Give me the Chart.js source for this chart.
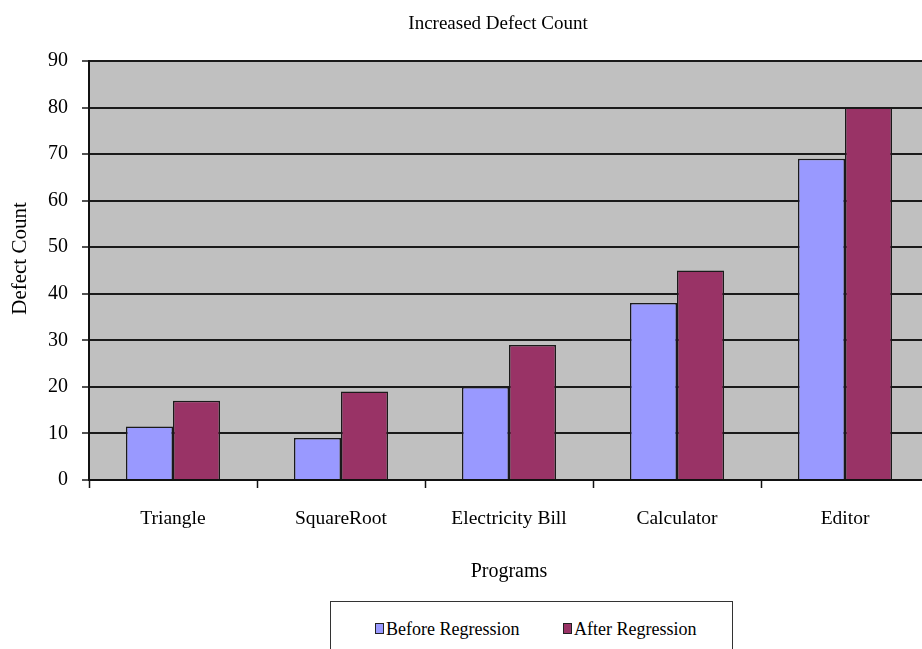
<!DOCTYPE html>
<html>
<head>
<meta charset="utf-8">
<script src="https://cdn.jsdelivr.net/npm/chart.js@4/dist/chart.umd.min.js"></script>
<style>
  html, body { margin: 0; padding: 0; background: #fff; overflow: hidden; }
  #wrap { position: relative; width: 929px; height: 649px; }
  #legend {
    position: absolute; left: 330px; top: 601px; width: 403px; height: 60px;
    border: 1.5px solid #333; box-sizing: border-box; background: #fff;
    font-family: "Liberation Serif", "Times New Roman", serif; font-size: 18px; color: #000;
  }
  .item { position: absolute; top: 17px; white-space: nowrap; line-height: 20px; }
  .sw { display: inline-block; width: 7px; height: 9px; border: 1px solid #222; margin-right: 2px; vertical-align: 1px; }
</style>
</head>
<body>
<div id="wrap">
  <canvas id="c" width="929" height="649"></canvas>
  <div id="legend"></div>
</div>
<script>
const programs = ['Triangle', 'SquareRoot', 'Electricity Bill', 'Calculator', 'Editor'];
const beforeRegression = [11.5, 9, 20, 38, 69];
const afterRegression = [17, 19, 29, 45, 80];
const seriesNames = ['Before Regression', 'After Regression'];
const seriesColors = ['#9999FF', '#993366'];
const chartTitle = 'Increased Defect Count';
const yAxisTitle = 'Defect Count';

const serif = '"Liberation Serif", "Times New Roman", serif';

// grey plot-area fill behind the bars
const plotBackground = {
  id: 'plotBackground',
  beforeDraw(chart) {
    const { ctx, chartArea: a } = chart;
    ctx.save();
    ctx.fillStyle = '#C0C0C0';
    ctx.fillRect(a.left, a.top, a.right - a.left, a.bottom - a.top);
    ctx.restore();
  }
};

// chart title above the plot and rotated y-axis title beside it
const titles = {
  id: 'titles',
  afterDraw(chart) {
    const { ctx, chartArea: a } = chart;
    ctx.save();
    ctx.fillStyle = '#000';
    ctx.textAlign = 'center';
    ctx.textBaseline = 'middle';
    ctx.font = '19px ' + serif;
    ctx.fillText(chartTitle, (a.left + a.right) / 2 - 11, 24);
    ctx.translate(20, (a.top + a.bottom) / 2 - 12);
    ctx.rotate(-Math.PI / 2);
    ctx.font = '21px ' + serif;
    ctx.fillText(yAxisTitle, 0, 0);
    ctx.restore();
  }
};

const chart = new Chart(document.getElementById('c'), {
  type: 'bar',
  data: {
    labels: programs,
    datasets: [
      { label: seriesNames[0], data: beforeRegression, backgroundColor: seriesColors[0] },
      { label: seriesNames[1], data: afterRegression, backgroundColor: seriesColors[1] }
    ]
  },
  plugins: [plotBackground, titles],
  options: {
    responsive: false,
    animation: false,
    devicePixelRatio: 1,
    layout: { padding: { left: 0, right: 0, top: 61, bottom: 0 } },
    datasets: {
      bar: {
        categoryPercentage: 0.56,
        barPercentage: 1,
        borderColor: '#1a1a1a',
        borderWidth: 1.5
      }
    },
    plugins: {
      legend: { display: false },
      tooltip: { enabled: false },
      title: { display: false }
    },
    scales: {
      x: {
        grid: {
          offset: true,
          drawOnChartArea: false,
          drawTicks: true,
          tickLength: 8,
          color: '#111',
          tickWidth: 1.5
        },
        border: { display: true, color: '#111', width: 2 },
        ticks: {
          color: '#000',
          font: { family: serif, size: 19.5 },
          padding: 19,
          maxRotation: 0
        },
        title: {
          display: true,
          text: 'Programs',
          color: '#000',
          font: { family: serif, size: 20 },
          padding: { top: 0, bottom: 65 }
        },
        afterFit(scale) { scale.height = 169; }
      },
      y: {
        min: 0,
        max: 90,
        ticks: {
          stepSize: 10,
          color: '#000',
          font: { family: serif, size: 20 },
          padding: 14
        },
        grid: {
          color: '#1a1a1a',
          lineWidth: 2,
          tickLength: 7,
          tickWidth: 1.5
        },
        border: { display: true, color: '#111', width: 2 },
        afterFit(scale) { scale.width = 89; }
      }
    }
  }
});

// boxed legend built from the chart's datasets
const legend = document.getElementById('legend');
const itemLeft = [44, 232];
chart.data.datasets.forEach((ds, i) => {
  const item = document.createElement('span');
  item.className = 'item';
  item.style.left = itemLeft[i] + 'px';
  const sw = document.createElement('span');
  sw.className = 'sw';
  sw.style.background = ds.backgroundColor;
  item.appendChild(sw);
  item.appendChild(document.createTextNode(ds.label));
  legend.appendChild(item);
});
</script>
</body>
</html>
